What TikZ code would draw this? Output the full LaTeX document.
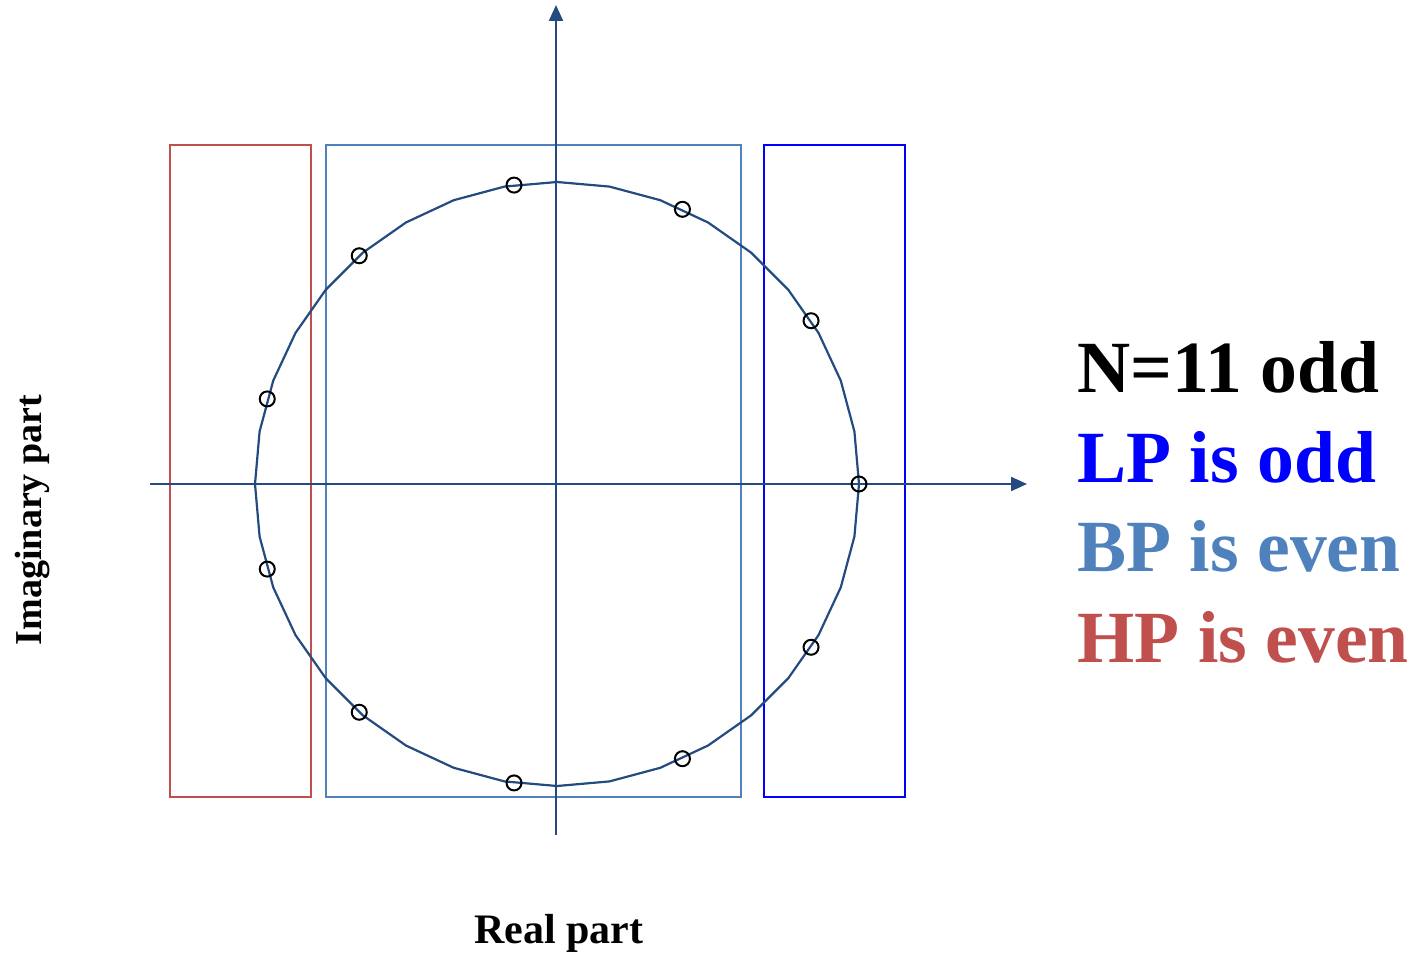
\documentclass[tikz,border=0pt]{standalone}
\usepackage{fontspec}
\setmainfont{Liberation Serif}
\usetikzlibrary{arrows.meta}
\definecolor{axisblue}{RGB}{36,75,128}
\definecolor{lightblue}{RGB}{79,129,189}
\definecolor{hpred}{RGB}{192,80,77}
\definecolor{lpblue}{RGB}{0,0,255}
\begin{document}
\begin{tikzpicture}[x=0.5pt,y=-0.5pt,
  axisline/.style={draw=axisblue,line width=1.1pt,-{Triangle[length=8pt,width=7pt]}},
  bandbox/.style={line width=1.1pt},
  zero/.style={circle,draw=black,line width=1pt,minimum size=7.5pt,inner sep=0pt},
  bigtxt/.style={anchor=base west,inner sep=0pt,font=\fontsize{36.8}{40}\selectfont\bfseries},
  labeltxt/.style={inner sep=0pt,font=\fontsize{21}{24}\selectfont\bfseries}]
\useasboundingbox (0,0) rectangle (1416,956);
% rectangles
\draw[bandbox,hpred] (170,145) rectangle (311,797);
\draw[bandbox,lightblue] (326,145) rectangle (741,797);
\draw[bandbox,lpblue] (764,145) rectangle (905,797);
% axes
\coordinate (xs) at (150,484);
\coordinate (xe) at (1027,484);
\coordinate (ys) at (556,835);
\coordinate (ye) at (556,5);
\draw[axisline] (xs) -- (xe);
\draw[axisline] (ys) -- (ye);
% unit circle (polygonal)
\draw[axisblue,line width=1.1pt] plot[samples=37,domain=0:360] ({557+302*cos(\x)},{484-302*sin(\x)}) -- cycle;
% zeros
\foreach \k in {0,...,10}{
  \node[zero] (z\k) at ({557+302*cos(\k*360/11)},{484-302*sin(\k*360/11)}) {};
}
% labels
\node[bigtxt,text=black] (n11) at (1077,393) {N=11 odd};
\node[bigtxt,text=lpblue] (lp) at (1077,482) {LP is odd};
\node[bigtxt,text=lightblue] (bp) at (1077,571) {BP is even};
\node[bigtxt,text=hpred] (hp) at (1077,662) {HP is even};
\node[labeltxt,anchor=base] (re) at (559,943) {Real part};
\node[labeltxt,anchor=base,rotate=90,font=\fontsize{19}{22}\selectfont\bfseries] (im) at (41,520) {Imaginary part};
\end{tikzpicture}
\end{document}
